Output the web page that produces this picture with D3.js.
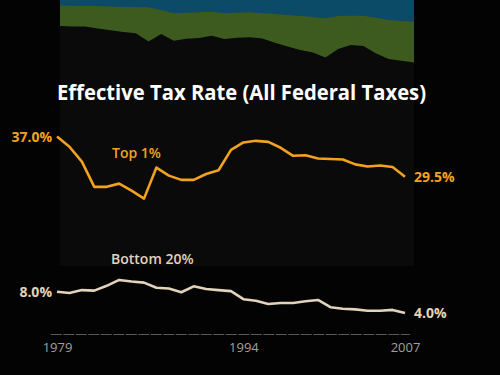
<!DOCTYPE html>
<html>
<head>
<meta charset="utf-8">
<script src="https://cdn.jsdelivr.net/npm/d3@7"></script>
<style>
  body { margin: 0; background: #030303; }
  svg { display: block; }
</style>
</head>
<body>
<svg id="chart"></svg>
<script>
// Data
const years = d3.range(1979, 2008);
const top1 = [37.0, 35.1, 32.3, 27.6, 27.6, 28.2, 26.9, 25.4, 31.2, 29.7, 28.9, 28.9, 30.0, 30.7,
  34.5, 35.9, 36.2, 36.0, 34.9, 33.4, 33.5, 32.9, 32.8, 32.7, 31.8, 31.4, 31.6, 31.3, 29.5];
const bottom20 = [8.0, 7.75, 8.3, 8.2, 9.1, 10.2, 9.9, 9.7, 8.75, 8.6, 7.9, 9.0, 8.5, 8.3,
  8.1, 6.6, 6.3, 5.7, 5.9, 5.9, 6.2, 6.45, 5.1, 4.8, 4.7, 4.45, 4.45, 4.6, 4.0];
// faded background band (share of panel, measured from the top)
const blueShare = [2.1, 2.2, 2.2, 2.3, 2.4, 2.6, 2.6, 2.7, 3.8, 5.0, 4.8, 4.6, 4.4, 5.0, 4.8,
  4.6, 5.0, 5.3, 5.6, 6.0, 6.4, 6.9, 6.0, 5.9, 5.9, 6.7, 7.5, 7.9, 8.2];
const greenShare = [7.7, 7.8, 7.8, 8.4, 9.0, 9.4, 9.9, 12.9, 9.0, 10.3, 9.8, 9.7, 9.0, 9.7, 9.4,
  9.4, 9.5, 10.8, 11.9, 12.8, 13.3, 14.7, 12.4, 11.0, 11.4, 13.4, 14.7, 14.9, 15.3];
const tickYears = [1979, 1994, 2007];

const width = 500, height = 375;
const svg = d3.select("#chart").attr("width", width).attr("height", height);

// background panel
const panel = { x0: 60, x1: 414, y0: 0, y1: 266 };
svg.append("rect")
    .attr("x", panel.x0).attr("y", panel.y0)
    .attr("width", panel.x1 - panel.x0).attr("height", panel.y1 - panel.y0)
    .attr("fill", "#0a0a0a");

// stacked band at the top of the panel
const xBand = d3.scaleLinear().domain([1979, 2007]).range([panel.x0, panel.x1]);
const yBand = d3.scaleLinear().domain([0, 100]).range([panel.y0, panel.y1]);
const bandRows = years.map((yr, i) => ({ year: yr, blue: blueShare[i], green: blueShare[i] + greenShare[i] }));

svg.append("path")
    .datum(bandRows)
    .attr("fill", "#3d5a1f")
    .attr("d", d3.area().x(d => xBand(d.year)).y0(yBand(0)).y1(d => yBand(d.green)));
svg.append("path")
    .datum(bandRows)
    .attr("fill", "#0b4b68")
    .attr("d", d3.area().x(d => xBand(d.year)).y0(yBand(0)).y1(d => yBand(d.blue)));

// main scales
const x = d3.scaleLinear().domain([1979, 2007]).range([57, 405]);
const y = d3.scaleLinear().domain([0, 40]).range([334.5, 120.5]);

// title
svg.append("text")
    .attr("x", 57).attr("y", 100)
    .attr("textLength", 369).attr("lengthAdjust", "spacingAndGlyphs")
    .style("font-family", "'Open Sans', sans-serif")
    .style("font-size", "21px").style("font-weight", "bold")
    .attr("fill", "#ffffff")
    .text("Effective Tax Rate (All Federal Taxes)");

// baseline axis
const axisG = svg.append("g").attr("transform", `translate(0, ${y(0)})`);
axisG.append("line")
    .attr("x1", x(1978.5)).attr("x2", x(2007.4))
    .attr("stroke", "#585858").attr("stroke-width", 1)
    .attr("stroke-dasharray", "11,1.5");
const xAxis = d3.axisBottom(x).tickValues(tickYears).tickFormat(d3.format("d")).tickSize(0).tickPadding(8);
const ticks = svg.append("g").attr("transform", `translate(0, ${y(0)})`).call(xAxis);
ticks.select(".domain").remove();
ticks.selectAll("text")
    .style("font-family", "'Open Sans', sans-serif")
    .style("font-size", "13px")
    .attr("fill", "#a0a0a0");

// lines
const line = d3.line().x((d, i) => x(years[i])).y(d => y(d));
const series = [
  { values: top1, color: "#f2a21f", name: "Top 1%", nameX: 112, nameY: 158, start: "37.0%", end: "29.5%" },
  { values: bottom20, color: "#e3d3ba", name: "Bottom 20%", nameX: 111, nameY: 264, start: "8.0%", end: "4.0%" }
];

series.forEach(s => {
  svg.append("path")
      .datum(s.values)
      .attr("fill", "none")
      .attr("stroke", s.color)
      .attr("stroke-width", 2.6)
      .attr("stroke-linejoin", "round")
      .attr("d", line);

  svg.append("text")
      .attr("x", s.nameX).attr("y", s.nameY)
      .style("font-family", "'Open Sans', sans-serif")
      .style("font-size", "14px").style("font-weight", 600)
      .attr("fill", s.color)
      .text(s.name);

  svg.append("text")
      .attr("x", x(1979) - 5).attr("y", y(s.values[0]) + 5)
      .attr("text-anchor", "end")
      .style("font-family", "'Open Sans', sans-serif")
      .style("font-size", "14px").style("font-weight", "bold")
      .attr("fill", s.color)
      .text(s.start);

  svg.append("text")
      .attr("x", x(2007) + 9).attr("y", y(s.values[s.values.length - 1]) + 5)
      .style("font-family", "'Open Sans', sans-serif")
      .style("font-size", "14px").style("font-weight", "bold")
      .attr("fill", s.color)
      .text(s.end);
});
</script>
</body>
</html>
